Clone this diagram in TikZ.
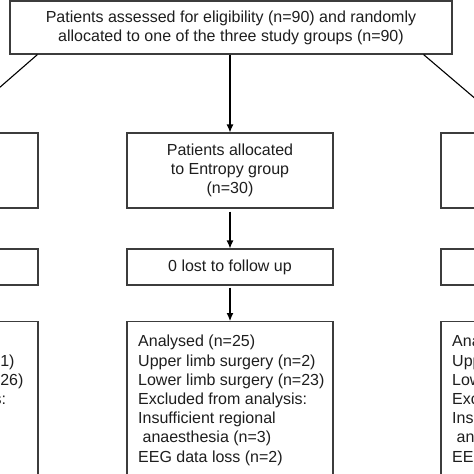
\documentclass[tikz,border=0pt]{standalone}
\usepackage{fontspec}
\setmainfont{Liberation Sans}
\usetikzlibrary{arrows.meta}
\definecolor{boxc}{HTML}{3C3C3C}
\definecolor{txt}{HTML}{1E1E1E}
\begin{document}
\begin{tikzpicture}[x=1pt,y=-1pt,
  box/.style={draw=boxc, line width=1.1pt, rectangle, inner sep=0pt, align=center, text=txt, font=\fontsize{16}{19.2}\selectfont},
  lst/.style={anchor=north west, inner sep=0pt, align=left, text=txt, font=\fontsize{16}{19.2}\selectfont},
  arr/.style={draw=black, line width=1.1pt, -{Latex[length=8pt,width=7pt]}}]
\useasboundingbox (0,0) rectangle (474,474);
\clip (0,0) rectangle (474,474);
\fill[white] (0,0) rectangle (474,474);
% top box
\node[box, minimum width=442, minimum height=53] (top) at (231,27.5)
  {Patients assessed for eligibility (n=90) and randomly\\allocated to one of the three study groups (n=90)};
% middle column
\node[box, minimum width=206, minimum height=75] (m1) at (230,170.5)
  {Patients allocated\\to Entropy group\\(n=30)};
\node[box, minimum width=206, minimum height=36] (m2) at (230,267) {0 lost to follow up};
\node[box, minimum width=206, minimum height=170, anchor=north] (m3) at (230,321) {};
\node[lst] (m3t) at (138,335)
  {Analysed (n=25)\\Upper limb surgery (n=2)\\Lower limb surgery (n=23)\\Excluded from analysis:\\Insufficient regional\\\ anaesthesia (n=3)\\EEG data loss (n=2)};
% left column
\node[box, minimum width=206, minimum height=75] (l1) at (-65,170.5)
  {Patients allocated\\to Control group\\(n=30)};
\node[box, minimum width=206, minimum height=36] (l2) at (-65,267) {0 lost to follow up};
\node[box, minimum width=206, minimum height=170, anchor=north] (l3) at (-65,321) {};
\node[lst] (l3t) at (-163,335)
  {Analysed (n=27)\\Upper limb surgery (n=1)\\Lower limb surgery (n=26)\\Excluded from analysis:\\Insufficient regional\\\ anaesthesia (n=2)\\EEG data loss (n=1)};
% right column
\node[box, minimum width=206, minimum height=75] (r1) at (544,170.5)
  {Patients allocated\\to BIS group\\(n=30)};
\node[box, minimum width=206, minimum height=36] (r2) at (544,267) {0 lost to follow up};
\node[box, minimum width=206, minimum height=170, anchor=north] (r3) at (544,321) {};
\node[lst] (r3t) at (452,335)
  {Analysed (n=26)\\Upper limb surgery (n=3)\\Lower limb surgery (n=23)\\Excluded from analysis:\\Insufficient regional\\\ anaesthesia (n=3)\\EEG data loss (n=1)};
% connectors
\draw[arr] (m1.north |- top.south) -- (m1.north);
\draw[arr, shorten <=3pt] (m1.south) -- (m2.north);
\draw[arr, shorten <=2pt] (m2.south) -- (m3.north);
\draw[arr] ([xshift=28pt]top.south west) -- ([xshift=13pt]l1.north);
\draw[arr] ([xshift=-29pt]top.south east) -- ([xshift=-29pt]r1.north);
\draw[arr, shorten <=3pt] (l1.south) -- (l2.north);
\draw[arr, shorten <=2pt] (l2.south) -- (l3.north);
\draw[arr, shorten <=3pt] (r1.south) -- (r2.north);
\draw[arr, shorten <=2pt] (r2.south) -- (r3.north);
\end{tikzpicture}
\end{document}
